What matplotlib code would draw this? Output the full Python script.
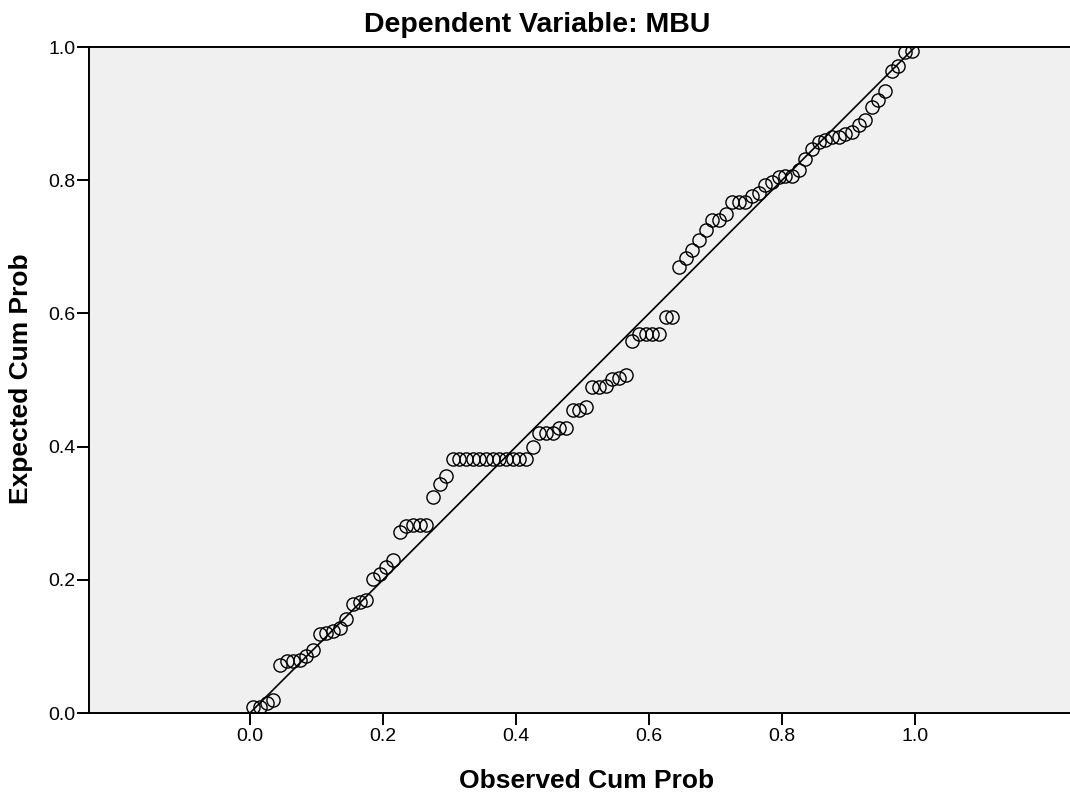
import matplotlib
matplotlib.use('Agg')
import matplotlib.pyplot as plt

plt.rcParams.update({
    'font.family': ['Liberation Sans', 'DejaVu Sans'],
    'font.size': 13,
})

# P-P plot of regression standardized residual, dependent variable MBU
observed = [
    0.005, 0.015, 0.025, 0.035, 0.045, 0.055, 0.065, 0.075, 0.085, 0.095,
    0.105, 0.115, 0.125, 0.135, 0.145, 0.155, 0.165, 0.175, 0.185, 0.195,
    0.205, 0.215, 0.225, 0.235, 0.245, 0.255, 0.265, 0.275, 0.285, 0.295,
    0.305, 0.315, 0.325, 0.335, 0.345, 0.355, 0.365, 0.375, 0.385, 0.395,
    0.405, 0.415, 0.425, 0.435, 0.445, 0.455, 0.465, 0.475, 0.485, 0.495,
    0.505, 0.515, 0.525, 0.535, 0.545, 0.555, 0.565, 0.575, 0.585, 0.595,
    0.605, 0.615, 0.625, 0.635, 0.645, 0.655, 0.665, 0.675, 0.685, 0.695,
    0.705, 0.715, 0.725, 0.735, 0.745, 0.755, 0.765, 0.775, 0.785, 0.795,
    0.805, 0.815, 0.825, 0.835, 0.845, 0.855, 0.865, 0.875, 0.885, 0.895,
    0.905, 0.915, 0.925, 0.935, 0.945, 0.955, 0.965, 0.975, 0.985, 0.995,
]
expected = [
    0.009, 0.009, 0.015, 0.020, 0.072, 0.078, 0.078, 0.080, 0.086, 0.095,
    0.119, 0.120, 0.123, 0.128, 0.141, 0.164, 0.167, 0.170, 0.201, 0.209,
    0.219, 0.230, 0.272, 0.281, 0.282, 0.282, 0.282, 0.324, 0.344, 0.356,
    0.381, 0.381, 0.381, 0.381, 0.381, 0.381, 0.381, 0.381, 0.381, 0.381,
    0.381, 0.381, 0.400, 0.420, 0.420, 0.420, 0.428, 0.428, 0.455, 0.455,
    0.459, 0.489, 0.489, 0.491, 0.502, 0.503, 0.507, 0.558, 0.569, 0.569,
    0.569, 0.569, 0.595, 0.595, 0.670, 0.683, 0.695, 0.710, 0.725, 0.740,
    0.740, 0.749, 0.767, 0.768, 0.768, 0.776, 0.781, 0.793, 0.798, 0.805,
    0.806, 0.806, 0.816, 0.832, 0.847, 0.858, 0.860, 0.865, 0.865, 0.870,
    0.873, 0.883, 0.890, 0.910, 0.920, 0.934, 0.964, 0.971, 0.992, 0.994,
]
ref_line = [0.0, 1.0]
ticks = [0.0, 0.2, 0.4, 0.6, 0.8, 1.0]

fig = plt.figure(figsize=(10.70, 7.94), dpi=100)
# axes run a little past the right edge of the image, like the SPSS export
ax = fig.add_axes([89/1070, 1 - 713/794, 995/1070, 666/794])
ax.set_facecolor('#F0F0F0')

ax.plot(ref_line, ref_line, color='black', lw=1.2, zorder=2)
ax.plot(observed, expected, linestyle='none', marker='o', ms=9.5,
        mfc='none', mec='black', mew=1.0, zorder=3)

ax.set_xlim(-0.242, 1.254)
ax.set_ylim(0, 1.0)
ax.set_xticks(ticks)
ax.set_yticks(ticks)
ax.set_xticklabels([f'{t:.1f}' for t in ticks])
ax.set_yticklabels([f'{t:.1f}' for t in ticks])
ax.tick_params(axis='both', direction='out', length=8.5, width=1.4,
               labelsize=14, pad=2)
ax.tick_params(axis='y', pad=1)

for side in ['left', 'bottom', 'top']:
    ax.spines[side].set_linewidth(1.4)
ax.spines['right'].set_visible(False)

ax.set_xlabel('Observed Cum Prob', fontsize=19, fontweight='bold')
ax.set_ylabel('Expected Cum Prob', fontsize=19, fontweight='bold')
ax.xaxis.set_label_coords(0.5, -0.084)
ax.yaxis.set_label_coords(-0.056, 0.502)

fig.text(0.5016, 1 - 32/794, 'Dependent Variable: MBU', fontsize=20.5,
         fontweight='bold', ha='center', va='baseline')

fig.savefig('out.png', dpi=100, facecolor='white')
